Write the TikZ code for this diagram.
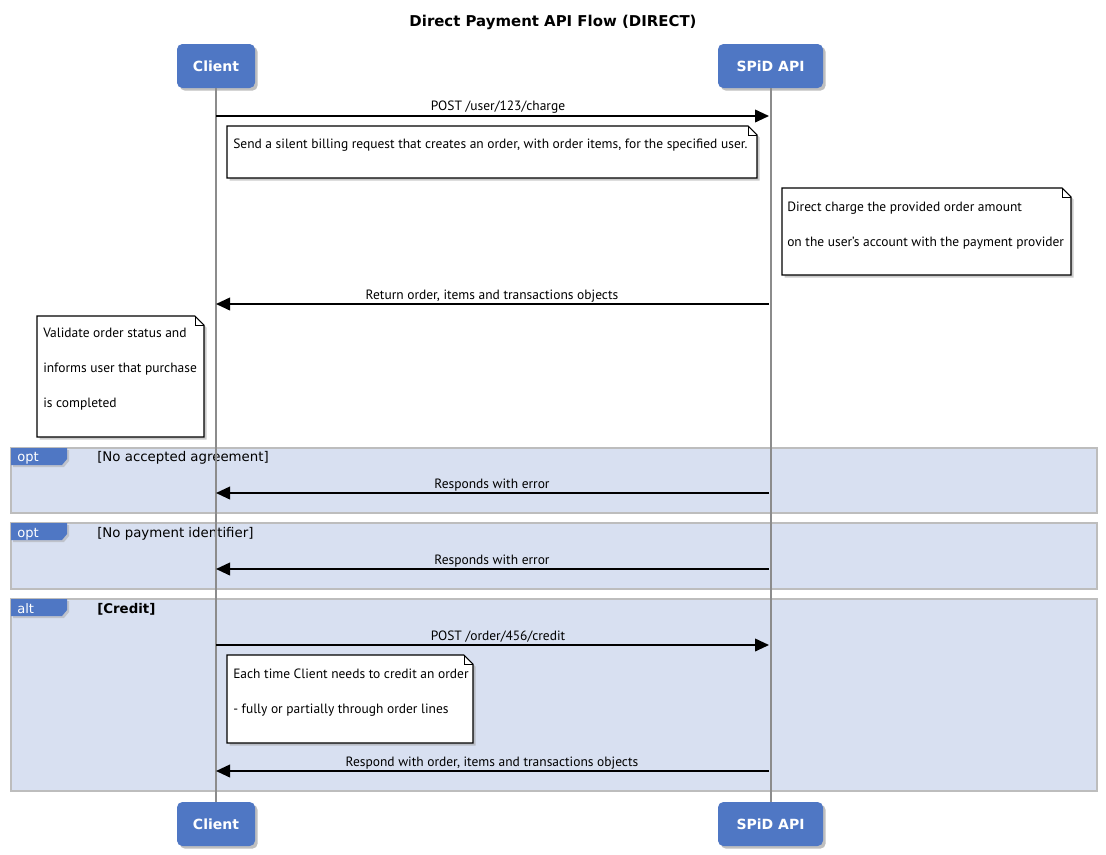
\documentclass[tikz,border=0pt]{standalone}
\usepackage{fontspec}
\setmainfont{PT Sans}
\newfontfamily\dvs{DejaVu Sans}
\usetikzlibrary{arrows.meta,shadows}
\definecolor{partblue}{HTML}{4F77C4}
\definecolor{framefill}{HTML}{D8E0F1}
\definecolor{framedraw}{HTML}{BDBDBD}
\definecolor{lifegray}{HTML}{8C8C8C}
\begin{document}
\begin{tikzpicture}[x=0.75pt,y=-0.75pt,
  part/.style={fill=partblue, rounded corners=4pt, text=white, inner sep=0pt,
    minimum height=33pt, font=\dvs\bfseries\fontsize{10.5}{12}\selectfont,
    drop shadow={shadow xshift=2pt, shadow yshift=-2pt, fill=black!50}},
  msg/.style={draw=black, line width=1.3pt, -{Triangle[length=10.5pt,width=9.5pt]}},
  life/.style={draw=lifegray, line width=1.5pt},
  notebox/.style={draw=black, fill=white, line width=0.8pt,
    drop shadow={shadow xshift=2pt, shadow yshift=-2pt, fill=black!40}},
  notetxt/.style={font=\fontsize{10.1}{12}\selectfont, anchor=base west, inner sep=0pt},
  msglbl/.style={font=\fontsize{10.1}{12}\selectfont, anchor=base, inner sep=0pt},
  framebox/.style={draw=framedraw, fill=framefill, line width=1.5pt},
  tabbox/.style={fill=partblue, drop shadow={shadow xshift=1.5pt, shadow yshift=-1.5pt, fill=black!35}},
  tabtxt/.style={font=\dvs\fontsize{9.8}{11}\selectfont, text=white, anchor=base west, inner sep=0pt},
  guard/.style={font=\dvs\fontsize{10}{12}\selectfont, anchor=base west, inner sep=0pt}]
\useasboundingbox[fill=white] (0,0) rectangle (1106,854);

% title
\node[font=\dvs\bfseries\fontsize{11.2}{13}\selectfont] (title) at (553,22) {Direct Payment API Flow (DIRECT)};

% frames
\path[framebox] (11,448) rectangle (1097,513);
\path[tabbox] (11,448) -- (67,448) -- (67,459) -- (62,465) -- (11,465) -- cycle;
\node[tabtxt] (opt1) at (17,461) {opt};
\node[guard] (g1) at (97,461) {[No accepted agreement]};

\path[framebox] (11,523) rectangle (1097,589);
\path[tabbox] (11,523) -- (67,523) -- (67,534) -- (62,540) -- (11,540) -- cycle;
\node[tabtxt] (opt2) at (17,537) {opt};
\node[guard] (g2) at (97,537) {[No payment identifier]};

\path[framebox] (11,599) rectangle (1097,791);
\path[tabbox] (11,599) -- (67,599) -- (67,610) -- (62,616) -- (11,616) -- cycle;
\node[tabtxt] (alt1) at (17,613) {alt};
\node[guard,font=\dvs\bfseries\fontsize{10}{12}\selectfont] (g3) at (97,613) {[Credit]};

% participants
\node[part, minimum width=58.5pt] (ct) at (216,66) {Client};
\node[part, minimum width=78.75pt] (st) at (770.5,66) {SPiD API};
\node[part, minimum width=58.5pt] (cb) at (216,824) {Client};
\node[part, minimum width=78.75pt] (sb) at (770.5,824) {SPiD API};

% lifelines
\draw[life] (ct.south) -- (cb.north);
\draw[life] (st.south) -- (sb.north);

% message anchor points
\coordinate (c1) at (216,116); \coordinate (s1) at (769,116);
\coordinate (c2) at (216,304); \coordinate (s2) at (769,304);
\coordinate (c3) at (216,493); \coordinate (s3) at (769,493);
\coordinate (c4) at (216,569); \coordinate (s4) at (769,569);
\coordinate (c5) at (216,645); \coordinate (s5) at (769,645);
\coordinate (c6) at (216,771); \coordinate (s6) at (769,771);

% messages
\draw[msg] (c1) -- (s1);
\node[msglbl] (m1) at (498,110) {POST /user/123/charge};
\draw[msg] (s2) -- (c2);
\node[msglbl] (m2) at (492,299) {Return order, items and transactions objects};
\draw[msg] (s3) -- (c3);
\node[msglbl] (m3) at (492,488) {Responds with error};
\draw[msg] (s4) -- (c4);
\node[msglbl] (m4) at (492,564) {Responds with error};
\draw[msg] (c5) -- (s5);
\node[msglbl] (m5) at (498,640) {POST /order/456/credit};
\draw[msg] (s6) -- (c6);
\node[msglbl] (m6) at (492,766) {Respond with order, items and transactions objects};

% notes
\path[notebox] (227,126) -- (748,126) -- (757,135) -- (757,178) -- (227,178) -- cycle;
\draw[line width=0.6pt] (748,126) -- (748,135) -- (757,135);
\node[notetxt] (n1) at (233,148) {Send a silent billing request that creates an order, with order items, for the specified user.};

\path[notebox] (782,188) -- (1062,188) -- (1071,197) -- (1071,275) -- (782,275) -- cycle;
\draw[line width=0.6pt] (1062,188) -- (1062,197) -- (1071,197);
\node[notetxt] (n2a) at (787,211) {Direct charge the provided order amount};
\node[notetxt] (n2b) at (787,246) {on the user's account with the payment provider};

\path[notebox] (37,316) -- (195,316) -- (204,325) -- (204,437) -- (37,437) -- cycle;
\draw[line width=0.6pt] (195,316) -- (195,325) -- (204,325);
\node[notetxt] (n3a) at (43,337) {Validate order status and};
\node[notetxt] (n3b) at (43,372) {informs user that purchase};
\node[notetxt] (n3c) at (43,407) {is completed};

\path[notebox] (227,655) -- (464,655) -- (473,664) -- (473,743) -- (227,743) -- cycle;
\draw[line width=0.6pt] (464,655) -- (464,664) -- (473,664);
\node[notetxt] (n4a) at (233,678) {Each time Client needs to credit an order};
\node[notetxt] (n4b) at (233,713) {- fully or partially through order lines};
\end{tikzpicture}
\end{document}
